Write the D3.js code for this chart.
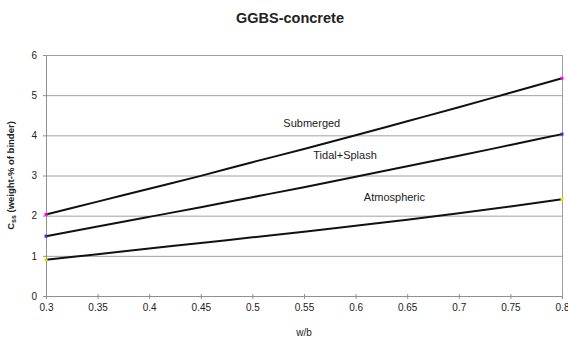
<!DOCTYPE html>
<html>
<head>
<meta charset="utf-8">
<script src="https://cdn.jsdelivr.net/npm/d3@7"></script>
<style>
  body { margin: 0; background: #fff; }
  text { font-family: "Liberation Sans", Arial, sans-serif; fill: #222; }
</style>
</head>
<body>
<div id="chart"></div>
<script>
// w/b ratios
const wb = [0.3, 0.35, 0.4, 0.45, 0.5, 0.55, 0.6, 0.65, 0.7, 0.75, 0.8];
// chloride content, weight-% of binder
const submerged   = [2.03, 2.35, 2.67, 2.99, 3.33, 3.66, 4.00, 4.35, 4.70, 5.06, 5.42];
const tidalSplash = [1.49, 1.73, 1.97, 2.21, 2.46, 2.71, 2.97, 3.23, 3.49, 3.76, 4.03];
const atmospheric = [0.90, 1.04, 1.18, 1.32, 1.46, 1.60, 1.75, 1.90, 2.06, 2.23, 2.41];
const seriesNames = ["Submerged", "Tidal+Splash", "Atmospheric"];
const yTicks = [0, 1, 2, 3, 4, 5, 6];

const width = 568, height = 340;
const margin = { top: 55, right: 6, bottom: 44, left: 46 };
const innerWidth = width - margin.left - margin.right;
const innerHeight = height - margin.top - margin.bottom;

const svg = d3.select("#chart").append("svg")
  .attr("width", width).attr("height", height);

const g = svg.append("g")
  .attr("transform", `translate(${margin.left}, ${margin.top})`);

const x = d3.scaleLinear().domain([0.3, 0.8]).range([0, innerWidth]);
const y = d3.scaleLinear().domain([0, 6]).range([innerHeight, 0]);

// gridlines
g.selectAll("line.grid").data(yTicks.slice(1)).join("line")
  .attr("class", "grid")
  .attr("x1", 0).attr("x2", innerWidth)
  .attr("y1", d => y(d) + 0.5).attr("y2", d => y(d) + 0.5)
  .attr("stroke", "#a0a0a0");

// right border
g.append("line")
  .attr("x1", innerWidth + 0.5).attr("x2", innerWidth + 0.5)
  .attr("y1", 0).attr("y2", innerHeight)
  .attr("stroke", "#a0a0a0");

// axes
const xAxis = g.append("g")
  .attr("transform", `translate(0, ${innerHeight})`)
  .call(d3.axisBottom(x).tickValues(wb).tickSize(3).tickFormat(d3.format("")));
const yAxis = g.append("g")
  .call(d3.axisLeft(y).tickValues(yTicks).tickSize(3).tickFormat(d3.format("d")));

[xAxis, yAxis].forEach(a => {
  a.select(".domain").attr("stroke", "#909090");
  a.selectAll(".tick line").attr("stroke", "#909090");
  a.selectAll(".tick text").attr("font-size", 10).attr("fill", "#333")
    .style("font-family", '"Liberation Sans", Arial, sans-serif');
});
xAxis.selectAll(".tick line").attr("y1", -2).attr("y2", 3);
xAxis.selectAll(".tick text").attr("dy", "0.85em");
yAxis.selectAll(".tick text").attr("dx", "-0.3em");

// lines
const data = [submerged, tidalSplash, atmospheric];
const markerColors = ["#ff00ff", "#3333cc", "#e6e600"];
const line = d3.line()
  .x((d, i) => x(wb[i]))
  .y(d => y(d))
  .curve(d3.curveMonotoneX);

g.selectAll("path.series").data(data).join("path")
  .attr("class", "series")
  .attr("d", line)
  .attr("fill", "none")
  .attr("stroke", "#111")
  .attr("stroke-width", 2);

// end markers
data.forEach((s, k) => {
  [0, s.length - 1].forEach(i => {
    g.append("rect")
      .attr("x", x(wb[i]) - 1.5).attr("y", y(s[i]) - 1.5)
      .attr("width", 3).attr("height", 3)
      .attr("fill", markerColors[k]);
  });
});

// series labels
const labelPos = [[0.53, 4.21], [0.559, 3.41], [0.608, 2.37]];
g.selectAll("text.lbl").data(seriesNames).join("text")
  .attr("class", "lbl")
  .attr("x", (d, i) => x(labelPos[i][0]))
  .attr("y", (d, i) => y(labelPos[i][1]))
  .attr("font-size", 11)
  .attr("fill", "#333")
  .text(d => d);

// title
svg.append("text")
  .attr("x", 290).attr("y", 23)
  .attr("text-anchor", "middle")
  .attr("font-size", 14.5).attr("font-weight", "bold")
  .text("GGBS-concrete");

// x axis title
svg.append("text")
  .attr("x", margin.left + x(0.55)).attr("y", 336)
  .attr("text-anchor", "middle")
  .attr("font-size", 10)
  .text("w/b");

// y axis title
const yt = svg.append("text")
  .attr("transform", `translate(14, ${margin.top + innerHeight / 2}) rotate(-90)`)
  .attr("text-anchor", "middle")
  .attr("font-size", 9.5)
  .attr("font-weight", "bold");
yt.append("tspan").text("C");
yt.append("tspan").attr("font-size", 7).attr("dy", 2).text("ss");
yt.append("tspan").attr("dy", -2).text(" (weight-% of binder)");
</script>
</body>
</html>
